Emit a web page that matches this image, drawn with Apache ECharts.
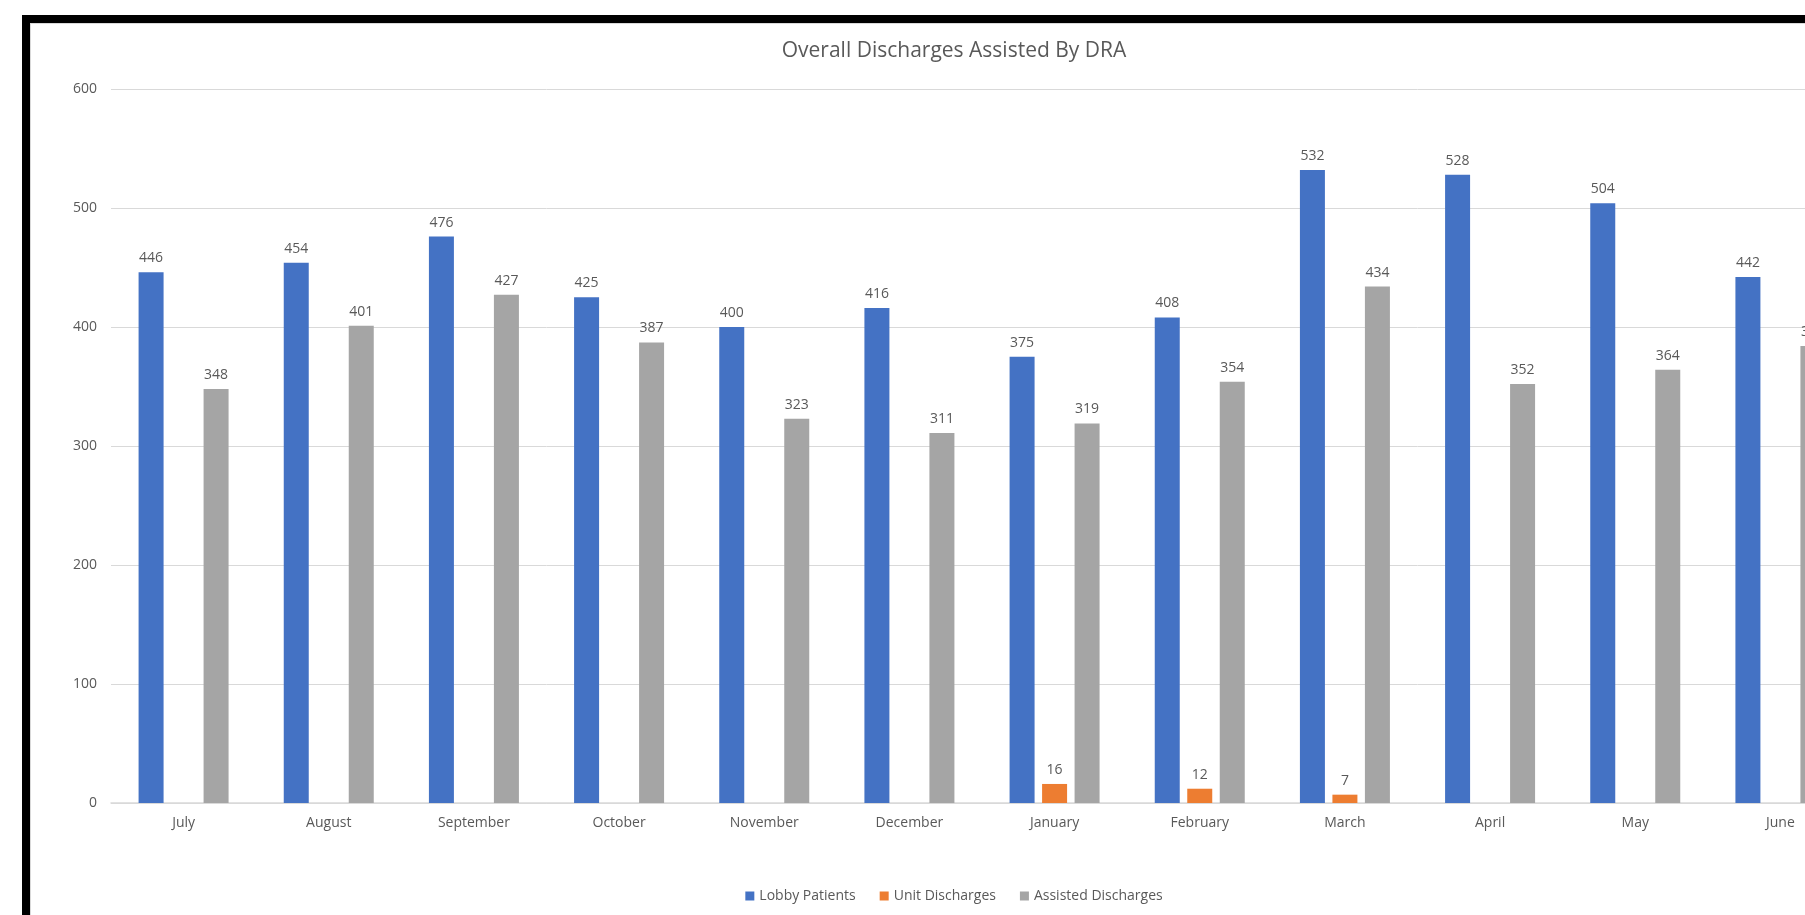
<!DOCTYPE html>
<html>
<head>
<meta charset="utf-8">
<title>Overall Discharges Assisted By DRA</title>
<script src="https://cdn.jsdelivr.net/npm/echarts@6/dist/echarts.min.js"></script>
<style>
  html, body { margin: 0; padding: 0; background: #fff; overflow: hidden; width: 1805px; height: 915px; }
  #frame {
    position: absolute; left: 22px; top: 15px;
    border-left: 8px solid #000; border-top: 8px solid #000;
  }
  #chart {
    width: 1846px; height: 900px;
    border-left: 1px solid #d9d9d9; border-top: 1px solid #d9d9d9;
  }
</style>
</head>
<body>
<div id="frame"><div id="chart"></div></div>
<script>
var months = ['July', 'August', 'September', 'October', 'November', 'December',
  'January', 'February', 'March', 'April', 'May', 'June'];
var lobbyPatients = [446, 454, 476, 425, 400, 416, 375, 408, 532, 528, 504, 442];
var unitDischarges = [null, null, null, null, null, null, 16, 12, 7, null, null, null];
var assistedDischarges = [348, 401, 427, 387, 323, 311, 319, 354, 434, 352, 364, 384];
var yTicks = [0, 100, 200, 300, 400, 500, 600];

var font = '"Open Sans", "Noto Sans", sans-serif';
var textGray = '#595959';

function barSeries(name, data, color) {
  return {
    name: name,
    type: 'bar',
    data: data,
    barWidth: 25,
    barGap: '30%',
    itemStyle: { color: color },
    label: {
      show: true,
      position: 'top',
      distance: 7,
      color: textGray,
      fontFamily: font,
      fontSize: 14
    }
  };
}

var myChart = echarts.init(document.getElementById('chart'));
var option = {
  animation: false,
  title: {
    text: 'Overall Discharges Assisted By DRA',
    left: 'center',
    top: 12,
    textStyle: { color: textGray, fontFamily: font, fontSize: 21, fontWeight: 400 }
  },
  legend: {
    bottom: 16,
    left: 'center',
    icon: 'rect',
    itemWidth: 9,
    itemHeight: 9,
    itemGap: 24,
    textStyle: { color: textGray, fontFamily: font, fontSize: 14 },
    data: ['Lobby Patients', 'Unit Discharges', 'Assisted Discharges']
  },
  grid: { left: 80, top: 65, width: 1742, height: 714, containLabel: false },
  xAxis: {
    type: 'category',
    data: months,
    axisLine: { lineStyle: { color: '#d9d9d9', width: 1.5 } },
    axisTick: { show: false },
    axisLabel: { color: textGray, fontFamily: font, fontSize: 14, margin: 13 }
  },
  yAxis: {
    type: 'value',
    min: yTicks[0],
    max: yTicks[yTicks.length - 1],
    interval: yTicks[1] - yTicks[0],
    axisLine: { show: false },
    axisTick: { show: false },
    axisLabel: { color: textGray, fontFamily: font, fontSize: 14, margin: 14 },
    splitLine: { lineStyle: { color: '#d9d9d9', width: 1 } }
  },
  series: [
    barSeries('Lobby Patients', lobbyPatients, '#4472c4'),
    barSeries('Unit Discharges', unitDischarges, '#ed7d31'),
    barSeries('Assisted Discharges', assistedDischarges, '#a5a5a5')
  ]
};
myChart.setOption(option);
</script>
</body>
</html>
